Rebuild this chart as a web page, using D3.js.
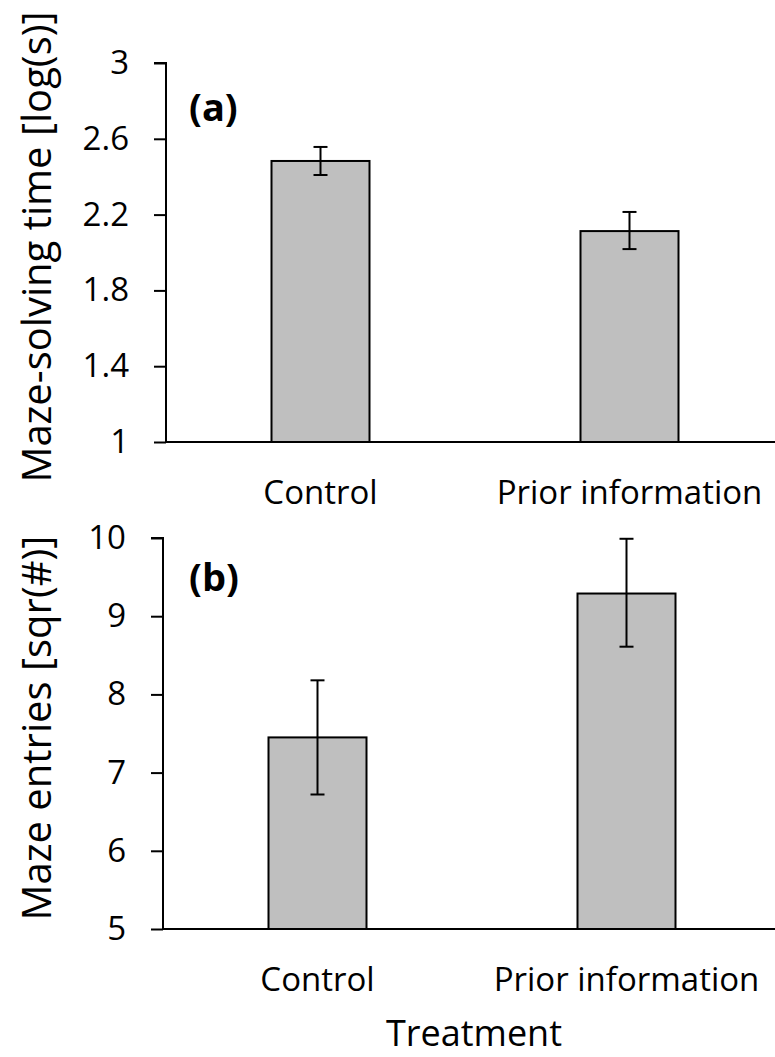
<!DOCTYPE html>
<html>
<head>
<meta charset="utf-8">
<script src="https://cdn.jsdelivr.net/npm/d3@7"></script>
<style>
  body { margin: 0; background: #fff; }
  svg { display: block; font-family: "Open Sans", sans-serif; }
</style>
</head>
<body>
<svg width="775" height="1057"></svg>
<script>
const categories = ['Control', 'Prior information'];

// panel (a): log maze-solving time
const timeMeans = [2.483, 2.113];
const timeLow = [2.409, 2.018];
const timeHigh = [2.557, 2.214];
const timeTicks = [1, 1.4, 1.8, 2.2, 2.6, 3];

// panel (b): sqrt maze entries
const entryMeans = [7.45, 9.29];
const entryLow = [6.72, 8.61];
const entryHigh = [8.18, 9.99];
const entryTicks = [5, 6, 7, 8, 9, 10];

const svg = d3.select('svg');

function drawPanel(opt) {
  const g = svg.append('g');
  const x = d3.scaleBand().domain(categories).range([opt.left, opt.left + 618]).paddingInner(0).paddingOuter(0);
  const y = d3.scaleLinear().domain(opt.domain).range([opt.bottom, opt.top]);
  const bw = 98;
  const cx = d => x(d) + x.bandwidth() / 2;

  const rows = categories.map((c, i) => ({ c, m: opt.means[i], lo: opt.low[i], hi: opt.high[i] }));

  g.selectAll('.bar').data(rows).enter().append('rect')
    .attr('x', d => cx(d.c) - bw / 2)
    .attr('width', bw)
    .attr('y', d => y(d.m))
    .attr('height', d => y(opt.domain[0]) - y(d.m))
    .attr('fill', '#bfbfbf')
    .attr('stroke', '#000')
    .attr('stroke-width', 2);

  // error bars
  const eb = g.selectAll('.err').data(rows).enter().append('g').attr('stroke', '#000').attr('stroke-width', 2);
  eb.append('line').attr('x1', d => cx(d.c)).attr('x2', d => cx(d.c)).attr('y1', d => y(d.lo)).attr('y2', d => y(d.hi));
  eb.append('line').attr('x1', d => cx(d.c) - 7).attr('x2', d => cx(d.c) + 7).attr('y1', d => y(d.lo)).attr('y2', d => y(d.lo));
  eb.append('line').attr('x1', d => cx(d.c) - 7).attr('x2', d => cx(d.c) + 7).attr('y1', d => y(d.hi)).attr('y2', d => y(d.hi));

  // y axis
  const ya = g.append('g').attr('transform', `translate(${opt.left},0)`)
    .call(d3.axisLeft(y).tickValues(opt.ticks).tickSize(12).tickPadding(25).tickFormat(d3.format('~g')));
  ya.select('.domain').attr('stroke-width', 2).attr('d', `M${-12},${y(opt.domain[1])}H0V${y(opt.domain[0])}`);
  ya.selectAll('.tick line').attr('stroke-width', 2);
  ya.selectAll('.tick text').attr('font-size', 33).attr('fill', '#000').attr('font-family', '"Open Sans", sans-serif');

  // x axis
  const xa = g.append('g').attr('transform', `translate(0,${opt.bottom})`)
    .call(d3.axisBottom(x).tickSize(0).tickPadding(0));
  xa.select('.domain').attr('stroke-width', 2).attr('d', `M${opt.left},0H775`);
  xa.selectAll('.tick text').attr('font-size', 33).attr('fill', '#000')
    .attr('font-family', '"Open Sans", sans-serif').attr('dy', null).attr('y', 62);

  g.append('text').attr('x', 189).attr('y', opt.tagY).attr('font-size', 38).attr('font-weight', 'bold').text(opt.tag);

  g.append('text').attr('transform', `translate(51,${opt.titleY}) rotate(-90)`)
    .attr('text-anchor', 'middle').attr('font-size', 40).text(opt.title);
}

drawPanel({ left: 166, top: 63, bottom: 442, domain: [1, 3], ticks: timeTicks, means: timeMeans, low: timeLow, high: timeHigh, tag: '(a)', tagY: 121, title: 'Maze-solving time [log(s)]', titleY: 247 });
drawPanel({ left: 163, top: 538, bottom: 929, domain: [5, 10], ticks: entryTicks, means: entryMeans, low: entryLow, high: entryHigh, tag: '(b)', tagY: 591, title: 'Maze entries [sqr(#)]', titleY: 728 });

svg.append('text').attr('x', 474).attr('y', 1046).attr('text-anchor', 'middle').attr('font-size', 36).text('Treatment');
</script>
</body>
</html>
